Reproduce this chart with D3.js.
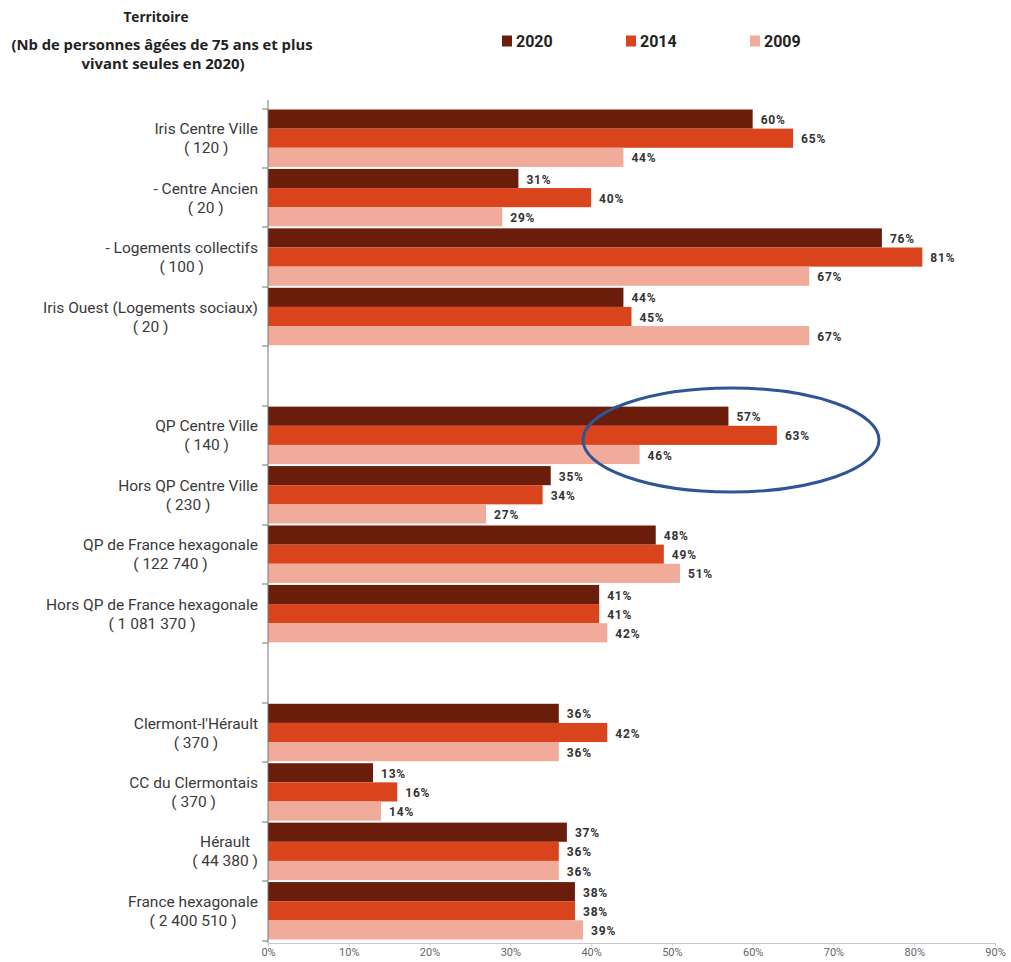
<!DOCTYPE html>
<html><head><meta charset="utf-8">
<script src="https://cdn.jsdelivr.net/npm/d3@7/dist/d3.min.js"></script>
<style>
body{margin:0;background:#fff;}
svg{display:block;}
</style></head>
<body>
<svg id="c" width="1011" height="962"></svg>
<script>
const categories = [
  ["Iris Centre Ville","( 120 )"],
  ["- Centre Ancien","( 20 )"],
  ["- Logements collectifs","( 100 )"],
  ["Iris Ouest (Logements sociaux)","( 20 )"],
  null,
  ["QP Centre Ville","( 140 )"],
  ["Hors QP Centre Ville","( 230 )"],
  ["QP de France hexagonale","( 122 740 )"],
  ["Hors QP de France hexagonale","( 1 081 370 )"],
  null,
  ["Clermont-l'Hérault","( 370 )"],
  ["CC du Clermontais","( 370 )"],
  ["Hérault","( 44 380 )"],
  ["France hexagonale","( 2 400 510 )"]
];
const seriesNames = ["2020","2014","2009"];
const values2020 = [60,31,76,44,null,57,35,48,41,null,36,13,37,38];
const values2014 = [65,40,81,45,null,63,34,49,41,null,42,16,36,38];
const values2009 = [44,29,67,67,null,46,27,51,42,null,36,14,36,39];
const xTicks = [0,10,20,30,40,50,60,70,80,90];
const colors = ["#6b1d0c","#d9441c","#f0ab9a"];
const titleLines = ["Territoire","(Nb de personnes âgées de 75 ans et plus","vivant seules en 2020)"];

const svg = d3.select("#c");
const x = d3.scaleLinear().domain([0,90]).range([268,995]);
const slots = categories.map((d,i)=>"s"+i);
const y = d3.scaleBand().domain(slots).range([108.5,940.5]).padding(0);
const inner = d3.scaleBand().domain(seriesNames).range([1, y.bandwidth()-1]).padding(0);
const seriesVals = [values2020, values2014, values2009];

// title
const tl = svg.append("g").attr("font-family","'Open Sans', sans-serif").attr("font-weight","bold").attr("fill","#222");
const tpos = [[156,22,65],[162,50,301],[163,69,163]];
titleLines.forEach((t,i)=>{
  tl.append("text").attr("x",tpos[i][0]).attr("y",tpos[i][1]).attr("text-anchor","middle")
    .attr("font-size",15).attr("textLength",tpos[i][2]).attr("lengthAdjust","spacingAndGlyphs").text(t);
});

// legend
const legX = [502,626,750];
seriesNames.forEach((s,i)=>{
  svg.append("rect").attr("x",legX[i]).attr("y",35.5).attr("width",10).attr("height",11).attr("fill",colors[i]);
  svg.append("text").attr("x",legX[i]+14).attr("y",47).attr("font-family","Roboto, sans-serif")
    .attr("font-weight","bold").attr("font-size",16).attr("fill","#222").text(s);
});

// bars
categories.forEach((c,i)=>{
  if(!c) return;
  const g = svg.append("g");
  seriesNames.forEach((s,j)=>{
    const v = seriesVals[j][i];
    const y0 = y(slots[i]) + inner(s);
    g.append("rect").attr("x",x(0)).attr("y",y0).attr("width",x(v)-x(0)).attr("height",inner.bandwidth()).attr("fill",colors[j]);
    g.append("text").attr("x",x(v)+8).attr("y",y0+inner.bandwidth()/2+5)
      .attr("font-family","Roboto,sans-serif").attr("letter-spacing","0.8")
      .attr("font-weight","bold").attr("font-size",12).attr("fill","#333").text(v+"%");
  });
});

// left axis
svg.append("line").attr("x1",x(0)).attr("x2",x(0)).attr("y1",100).attr("y2",943).attr("stroke","#777").attr("stroke-width",1);
const tickYs = [];
categories.forEach((c,i)=>{
  if(!c) return;
  tickYs.push(y(slots[i]));
  tickYs.push(y(slots[i])+y.bandwidth());
});
Array.from(new Set(tickYs.map(v=>Math.round(v)))).forEach(t=>{
  svg.append("line").attr("x1",x(0)-6).attr("x2",x(0)).attr("y1",t).attr("y2",t).attr("stroke","#777");
});

// category labels
categories.forEach((c,i)=>{
  if(!c) return;
  const mid = y(slots[i]) + y.bandwidth()/2;
  const g = svg.append("g").attr("font-family","Roboto,sans-serif")
    .attr("font-size",15.5).attr("fill","#3a3a3a");
  const t1 = g.append("text").attr("y",mid-4).attr("text-anchor","middle").text(c[0]);
  const t2 = g.append("text").attr("y",mid+15).attr("text-anchor","middle").text(c[1]);
  const w = Math.max(t1.node().getComputedTextLength(), t2.node().getComputedTextLength());
  const cx = 258 - w/2;
  t1.attr("x",cx); t2.attr("x",cx);
});

// bottom axis
const xa = svg.append("g").attr("transform","translate(0,943)")
  .call(d3.axisBottom(x).tickValues(xTicks).tickFormat(d=>d+"%").tickSize(3).tickPadding(2));
xa.select(".domain").attr("stroke","#c8c8c8");
xa.selectAll(".tick line").attr("stroke","#c8c8c8");
xa.selectAll(".tick text").attr("font-family","Roboto,sans-serif")
  .attr("font-size",11).attr("fill","#666");

// highlight ellipse
svg.append("ellipse").attr("cx",731).attr("cy",440).attr("rx",148).attr("ry",52)
  .attr("fill","none").attr("stroke","#2f5597").attr("stroke-width",3);
</script>
</body></html>
